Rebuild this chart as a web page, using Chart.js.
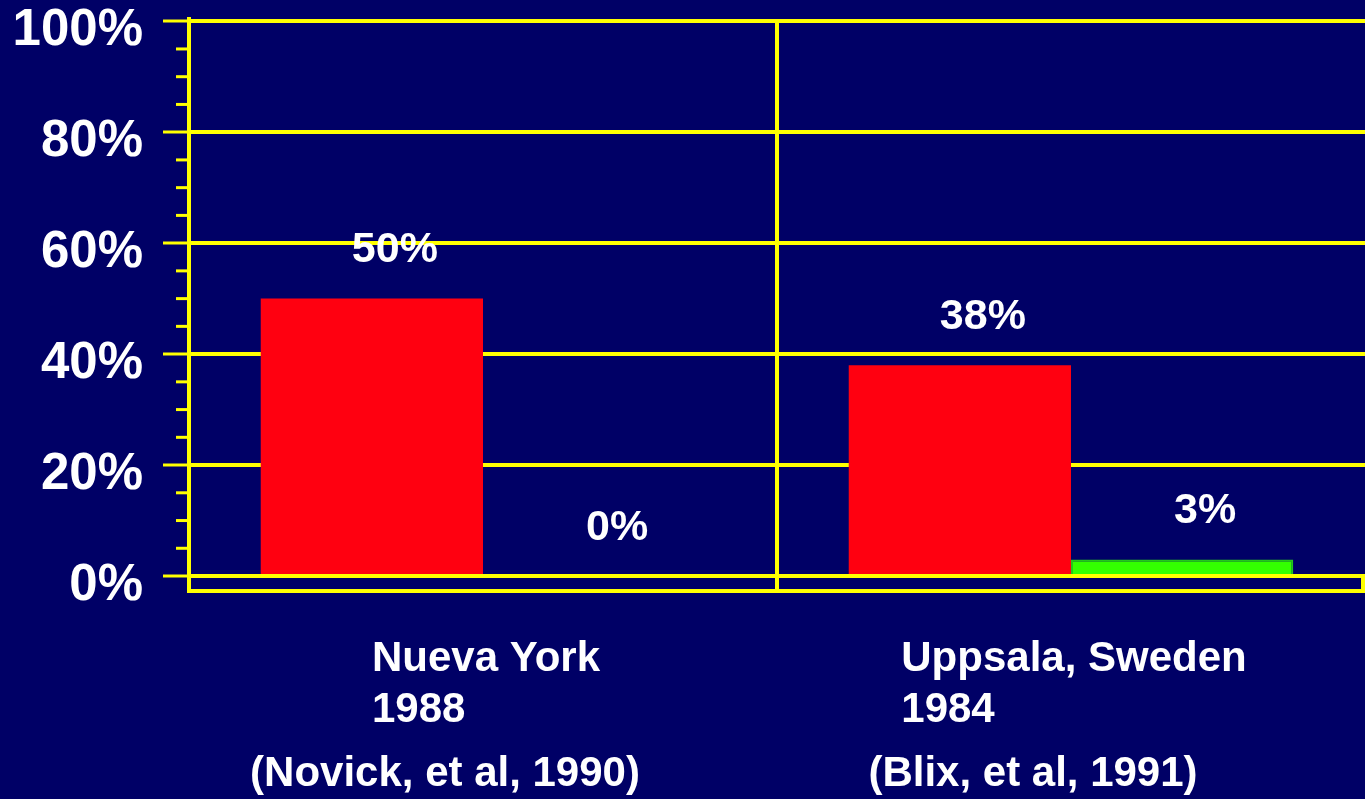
<!DOCTYPE html>
<html>
<head>
<meta charset="utf-8">
<script src="https://cdn.jsdelivr.net/npm/chart.js@4.4.1/dist/chart.umd.min.js"></script>
<style>
  html, body { margin: 0; padding: 0; background: #000066; overflow: hidden; }
  canvas { display: block; }
</style>
</head>
<body>
<canvas id="chart" width="1365" height="799"></canvas>
<script>
const categories = [["Nueva York", "1988"], ["Uppsala, Sweden", "1984"]]
const sources = ["(Novick, et al, 1990)", "(Blix, et al, 1991)"]
const redValues = [50, 38]
const greenValues = [0, 3]
const yTicks = [0, 20, 40, 60, 80, 100]
const minorStep = 5

const YELLOW = "#ffff00"
const FONT = "'Liberation Sans', Arial, sans-serif"

// minor ticks, floor edge, value labels and category text
const slideExtras = {
  id: "slideExtras",
  afterDraw(chart) {
    const ctx = chart.ctx
    const area = chart.chartArea
    const y = chart.scales.y
    const x = chart.scales.x
    ctx.save()
    ctx.strokeStyle = YELLOW
    ctx.lineWidth = 3
    for (let v = yTicks[0]; v <= yTicks[yTicks.length - 1]; v += minorStep) {
      if (yTicks.includes(v)) continue
      const py = y.getPixelForValue(v)
      ctx.beginPath()
      ctx.moveTo(area.left - 13, py)
      ctx.lineTo(area.left, py)
      ctx.stroke()
    }
    // right edge of the floor
    ctx.lineWidth = 4
    ctx.beginPath()
    ctx.moveTo(area.right - 2, y.getPixelForValue(0))
    ctx.lineTo(area.right - 2, area.bottom)
    ctx.stroke()

    // value labels above bars
    ctx.fillStyle = "#ffffff"
    ctx.font = `bold 43px ${FONT}`
    ctx.textAlign = "center"
    ctx.textBaseline = "middle"
    chart.data.datasets.forEach((ds, di) => {
      chart.getDatasetMeta(di).data.forEach((bar, i) => {
        ctx.fillText(ds.data[i] + "%", bar.x + 23, bar.y - 48)
      })
    })

    // category labels
    ctx.font = `bold 42px ${FONT}`
    ctx.textBaseline = "alphabetic"
    categories.forEach((lines, i) => {
      const cx = x.getPixelForValue(i)
      const w = Math.max(...lines.map((l) => ctx.measureText(l).width))
      ctx.textAlign = "left"
      lines.forEach((l, j) => ctx.fillText(l, cx - w / 2 + 3, area.bottom + 80 + j * 51))
      ctx.textAlign = "center"
      ctx.fillText(sources[i], cx - 38, area.bottom + 195)
    })
    ctx.restore()
  },
}

new Chart(document.getElementById("chart"), {
  type: "bar",
  data: {
    labels: categories,
    datasets: [
      {
        data: redValues,
        backgroundColor: "#ff0010",
        borderWidth: 0,
      },
      {
        data: greenValues,
        backgroundColor: "#33ff00",
        borderColor: "#22c81a",
        borderWidth: (c) => (c.raw > 0 ? 2 : 0),
      },
    ],
  },
  options: {
    responsive: false,
    animation: false,
    layout: { padding: { top: 19, right: 0, left: 0, bottom: 0 } },
    datasets: {
      bar: { categoryPercentage: 0.756, barPercentage: 1 },
    },
    plugins: {
      legend: { display: false },
      tooltip: { enabled: false },
    },
    scales: {
      x: {
        grid: {
          offset: true,
          color: (c) => (c.index === 1 ? YELLOW : "transparent"),
          lineWidth: 4,
          drawTicks: false,
        },
        border: { color: YELLOW, width: 4 },
        ticks: { display: false },
        afterFit: (s) => {
          s.height = 208
        },
      },
      y: {
        min: -2.7,
        max: 100.4,
        afterBuildTicks: (s) => {
          s.ticks = yTicks.map((v) => ({ value: v }))
        },
        afterFit: (s) => {
          s.width = 189
          s.paddingTop = 0
          s.paddingBottom = 0
        },
        border: { color: YELLOW, width: 4 },
        grid: {
          color: YELLOW,
          lineWidth: 4,
          tickLength: 26,
          tickColor: YELLOW,
          tickWidth: 3,
        },
        ticks: {
          color: "#ffffff",
          font: { family: FONT, size: 51, weight: "bold" },
          padding: 20,
          labelOffset: 10,
          callback: (v) => v + "%",
        },
      },
    },
  },
  plugins: [slideExtras],
})
</script>
</body>
</html>
